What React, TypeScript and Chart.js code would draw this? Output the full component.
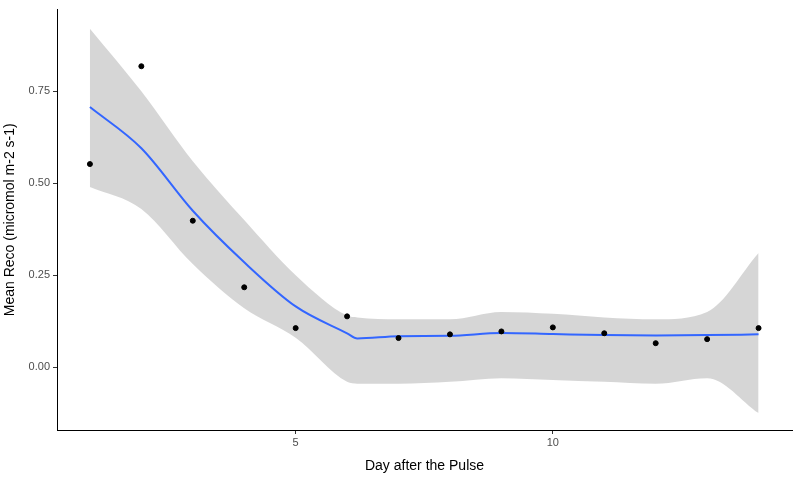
import { useEffect, useRef } from 'react';
import Chart from 'chart.js/auto';

const days = [1, 2, 3, 4, 5, 6, 7, 8, 9, 10, 11, 12, 13, 14];
const reco = [0.552, 0.818, 0.398, 0.217, 0.106, 0.138, 0.079, 0.089, 0.097, 0.108, 0.092, 0.065, 0.076, 0.106];

const fitX = [1, 2, 3, 4, 5, 6, 6.2, 7, 8, 9, 10, 11, 12, 13, 14];
const fitMean = [0.707, 0.595, 0.425, 0.285, 0.165, 0.092, 0.078, 0.084, 0.085, 0.093, 0.09, 0.087, 0.086, 0.087, 0.089];
const fitUpper = [0.92, 0.75, 0.56, 0.4, 0.25, 0.14, 0.135, 0.13, 0.13, 0.15, 0.145, 0.135, 0.13, 0.15, 0.31];
const fitLower = [0.49, 0.43, 0.28, 0.16, 0.08, -0.04, -0.045, -0.045, -0.04, -0.03, -0.035, -0.04, -0.045, -0.03, -0.125];

const xTicks = [5, 10];
const yTicks = [0, 0.25, 0.5, 0.75];

const xy = (xs: number[], ys: number[]) => xs.map((x, i) => ({ x, y: ys[i] }));

const App: React.FC = () => {
    const chartRef = useRef<HTMLCanvasElement>(null);

    useEffect(() => {
        document.body.style.margin = '0';
        if (!chartRef.current) return;
        const font = { family: 'Arial, "Liberation Sans", sans-serif' };
        const chart = new Chart(chartRef.current, {
            type: 'scatter',
            data: {
                datasets: [
                    {
                        type: 'line', data: xy(fitX, fitUpper), borderWidth: 0, pointRadius: 0,
                        backgroundColor: 'rgba(153,153,153,0.4)', fill: '+1', cubicInterpolationMode: 'monotone', order: 3
                    },
                    {
                        type: 'line', data: xy(fitX, fitLower), borderWidth: 0, pointRadius: 0,
                        fill: false, cubicInterpolationMode: 'monotone', order: 3
                    },
                    {
                        type: 'line', data: xy(fitX, fitMean), borderColor: '#3366FF', borderWidth: 2,
                        pointRadius: 0, fill: false, cubicInterpolationMode: 'monotone', order: 2
                    },
                    {
                        data: xy(days, reco), backgroundColor: '#000', borderColor: '#000',
                        pointRadius: 2.5, order: 1
                    }
                ]
            },
            options: {
                animation: false,
                responsive: false,
                layout: { padding: { top: 8, right: 9 } },
                scales: {
                    x: {
                        type: 'linear', min: 0.36, max: 14.65,
                        afterBuildTicks: (s: any) => { s.ticks = xTicks.map(v => ({ value: v })); },
                        afterFit: (s: any) => { s.height = 47; },
                        grid: { drawOnChartArea: false, tickLength: 4, color: '#333' },
                        border: { color: '#000', width: 1 },
                        ticks: { color: '#4d4d4d', font: { ...font, size: 11 }, padding: 2 },
                        title: { display: true, text: 'Day after the Pulse', color: '#000', font: { ...font, size: 14 }, padding: 2 }
                    },
                    y: {
                        min: -0.171, max: 0.972,
                        afterBuildTicks: (s: any) => { s.ticks = yTicks.map(v => ({ value: v })); },
                        afterFit: (s: any) => { s.width = 57; },
                        grid: { drawOnChartArea: false, tickLength: 4, color: '#333' },
                        border: { color: '#000', width: 1 },
                        ticks: {
                            color: '#4d4d4d', font: { ...font, size: 11 }, padding: 3,
                            callback: (v: any) => Number(v).toFixed(2)
                        },
                        title: { display: true, text: 'Mean Reco (micromol m-2 s-1)', color: '#000', font: { ...font, size: 14 }, padding: 2 }
                    }
                },
                plugins: { legend: { display: false }, tooltip: { enabled: false } }
            }
        });
        return () => { chart.destroy(); };
    }, []);

    return (
        <div>
            <canvas ref={chartRef} width={801} height={477}></canvas>
        </div>
    );
};

export default App;
